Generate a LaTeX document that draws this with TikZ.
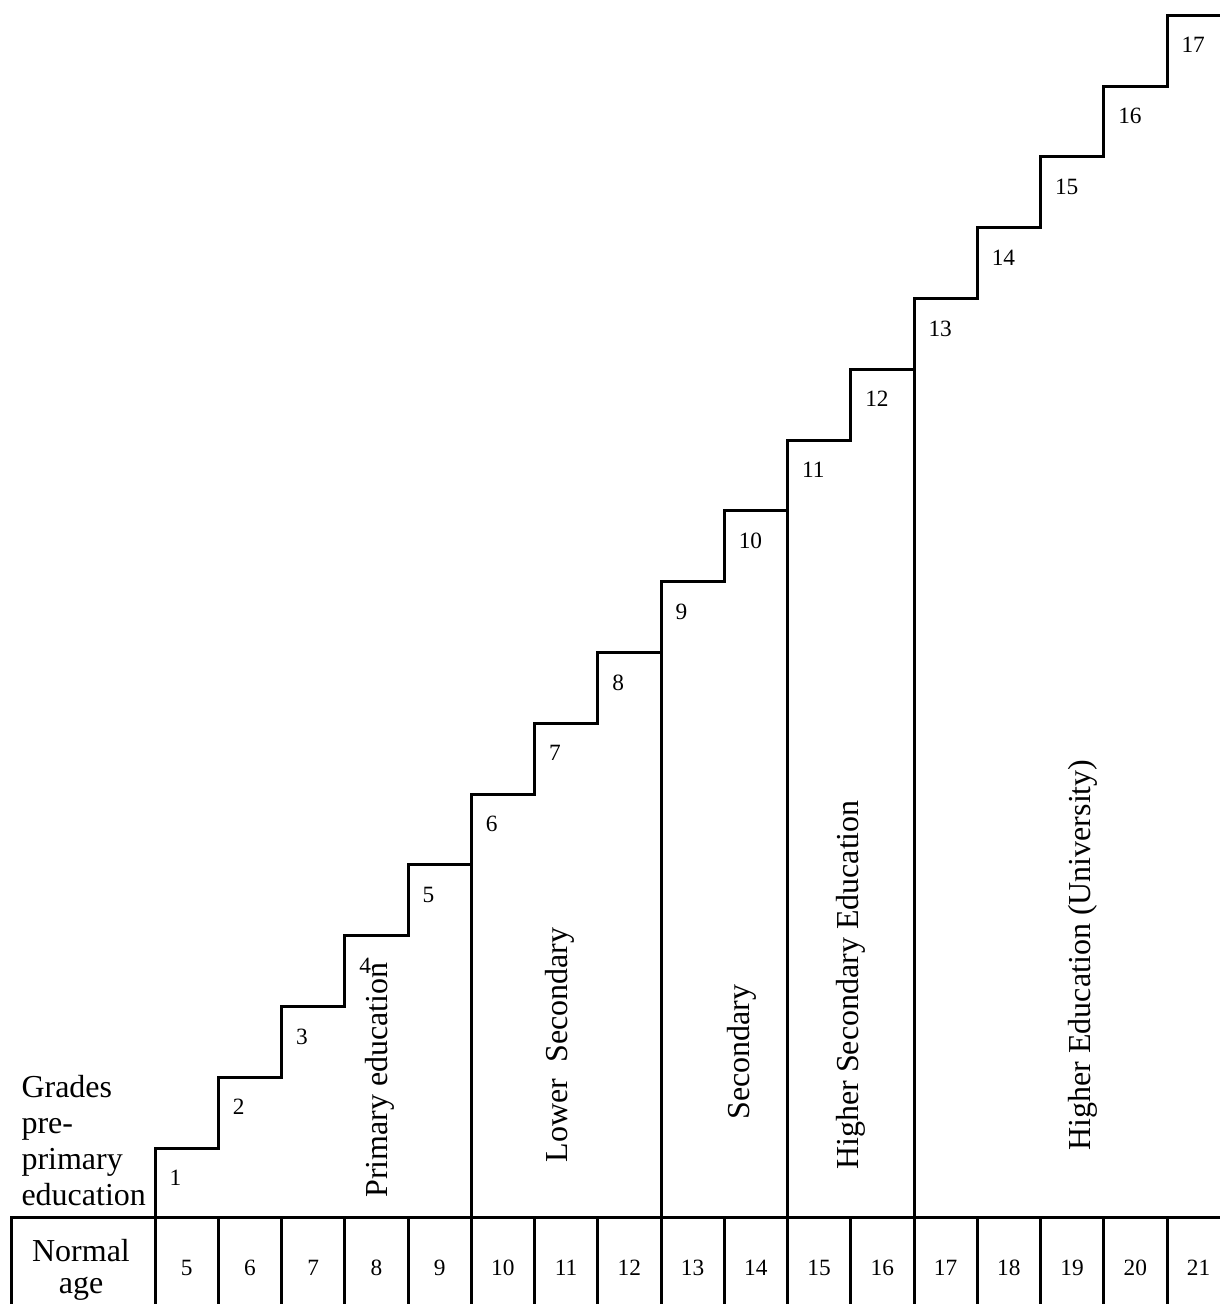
\documentclass[tikz,border=0pt]{standalone}
\usepackage{fontspec}
\setmainfont{Liberation Serif}
\begin{document}
\begin{tikzpicture}[x=0.75pt,y=-0.75pt,line width=2.25pt,
  big/.style={font=\fontsize{24}{28}\selectfont,inner sep=0pt},
  num/.style={font=\fontsize{17.5}{20}\selectfont,inner sep=0pt}]
\useasboundingbox (0,0) rectangle (1220,1304);
\clip (0,0) rectangle (1220,1304);
% staircase
\draw (155,1217) \foreach \k in {1,...,17} { -- ({155+63.25*(\k-1)},{1148-70.8*(\k-1)}) -- ({155+63.25*\k},{1148-70.8*(\k-1)}) };
% step labels
\foreach \k in {1,...,17}
  \node[num,anchor=west] (g\k) at ({155+63.25*(\k-1)+13},{1148-70.8*(\k-1)+30}) {\k};
% separators
\foreach \j in {5,8,10,12}
  \draw ({155+63.25*\j},1217) -- ({155+63.25*\j},{1148-70.8*(\j-1)});
% table
\draw (11,1320) -- (11,1217) -- (1230,1217);
\foreach \j in {0,...,16}
  \draw ({155+63.25*\j},1217) -- ({155+63.25*\j},1320);
\foreach \j [evaluate=\j as \a using int(\j+5)] in {0,...,16}
  \node[num] (a\j) at ({155+63.25*(\j+0.5)},1268) {\a};
\node[big,anchor=base] (na) at (81,1261) {Normal};
\node[big,anchor=base] (nb) at (81,1293) {age};
% left texts
\node[big,anchor=base west] (t1) at (20,1097) {Grades};
\node[big,anchor=base west] (t2) at (20,1133) {pre-};
\node[big,anchor=base west] (t3) at (20,1169) {primary};
\node[big,anchor=base west] (t4) at (20,1205) {education};
% rotated labels
\node[big,rotate=90] (l1) at (380,1080) {Primary education};
\node[big,rotate=90] (l2) at (560,1045) {Lower\ \ Secondary};
\node[big,rotate=90] (l3) at (742,1052) {Secondary};
\node[big,rotate=90] (l4) at (851,985) {Higher Secondary Education};
\node[big,rotate=90] (l5) at (1083,955) {Higher Education (University)};
\end{tikzpicture}
\end{document}
